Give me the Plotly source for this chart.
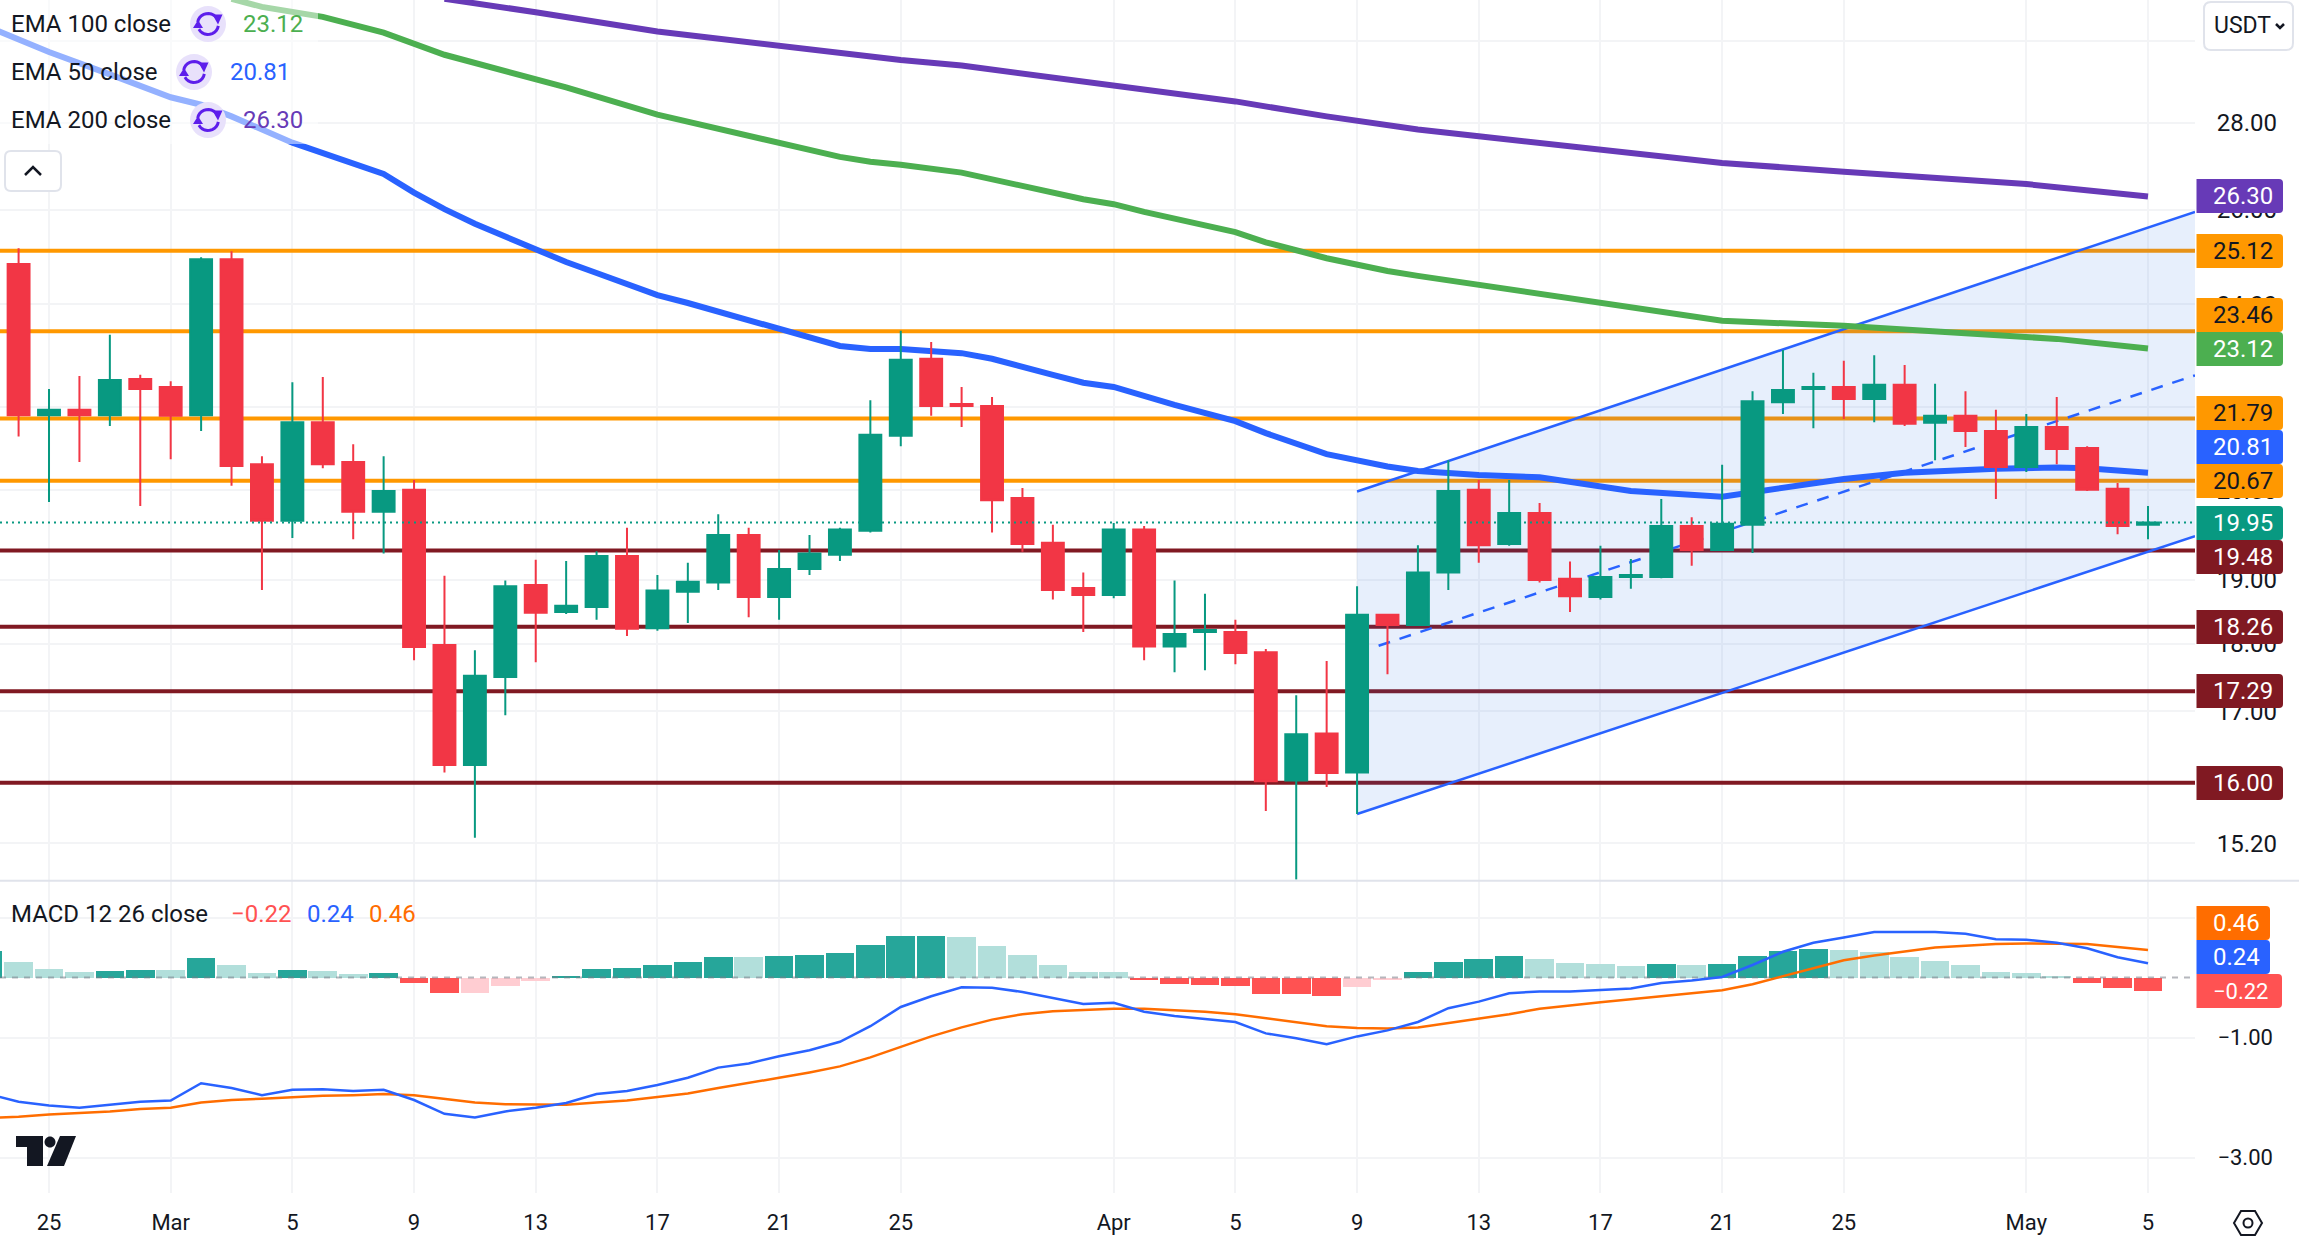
import math
import pandas as pd
import plotly.graph_objects as go

W, H = 2299, 1242

# daily candles, 24 Feb to 5 May
candle_dates = pd.date_range("2025-02-24", "2025-05-05")
open_px = [24.84, 21.85, 21.95, 21.85, 22.53,
           22.38, 21.85, 24.94, 20.96, 19.98, 21.72, 21.00, 20.13, 20.51, 17.98, 16.24, 17.50, 18.92, 18.49, 18.57, 19.39,
           18.24, 18.81, 18.96, 19.74, 18.73, 19.18, 19.41, 19.81, 21.47, 22.92, 22.06, 22.02, 20.37, 19.61, 18.87,
           18.76, 19.83, 17.96, 18.18, 18.18, 17.87, 16.03, 16.68, 16.14, 18.45, 18.29, 19.12, 20.51, 19.59, 20.11,
           19.02, 18.73, 19.05, 19.05, 19.89, 19.49, 19.91, 22.09, 22.34, 22.38, 22.15, 22.42, 21.71, 21.84, 21.56,
           20.91, 21.63, 21.25, 20.53, 19.91]
close_px = [21.85, 21.95, 21.85, 22.51, 22.34,
            21.84, 24.94, 20.93, 19.98, 21.72, 20.96, 20.13, 20.49, 17.95, 16.24, 17.52, 18.90, 18.48, 18.59, 19.39, 18.23,
            18.83, 18.97, 19.74, 18.73, 19.18, 19.43, 19.83, 21.49, 22.90, 22.02, 22.02, 20.33, 19.59, 18.84, 18.76,
            19.83, 17.96, 18.15, 18.21, 17.86, 16.02, 16.67, 16.13, 18.45, 18.29, 19.12, 20.49, 19.57, 20.11, 19.00,
            18.74, 19.05, 19.08, 19.89, 19.49, 19.93, 22.11, 22.32, 22.38, 22.15, 22.42, 21.69, 21.84, 21.56, 20.91,
            21.63, 21.23, 20.51, 19.89, 19.95]
high_px = [25.17, 22.34, 22.59, 23.39, 22.61,
           22.49, 24.98, 25.11, 21.10, 22.47, 22.57, 21.32, 21.10, 20.68, 19.07, 17.90, 18.99, 19.33, 19.31, 19.47, 19.86,
           19.08, 19.28, 20.09, 19.86, 19.49, 19.74, 19.86, 22.13, 23.47, 23.25, 22.38, 22.19, 20.54, 19.91, 19.12,
           19.94, 19.89, 18.99, 18.78, 18.37, 17.92, 17.23, 17.74, 18.90, 18.45, 19.57, 21.03, 20.68, 20.68, 20.28,
           19.30, 19.56, 19.34, 20.35, 20.04, 20.95, 22.30, 23.09, 22.65, 22.88, 22.99, 22.80, 22.44, 22.30, 21.95,
           21.87, 22.19, 21.28, 20.63, 20.23]
low_px = [21.46, 20.30, 21.00, 21.65, 20.23,
          21.05, 21.56, 20.58, 18.84, 19.69, 20.89, 19.67, 19.43, 17.75, 16.14, 15.27, 16.94, 17.72, 18.46, 18.37, 18.12,
          18.20, 18.32, 18.84, 18.41, 18.37, 19.08, 19.31, 19.78, 21.28, 21.84, 21.63, 19.78, 19.46, 18.69, 18.18,
          18.71, 17.75, 17.57, 17.60, 17.69, 15.62, 14.74, 15.94, 15.58, 17.54, 18.29, 18.84, 19.28, 19.56, 18.96,
          18.49, 18.69, 18.86, 19.03, 19.23, 19.49, 19.44, 21.87, 21.61, 21.78, 21.72, 21.65, 21.03, 21.27, 20.35,
          20.82, 20.96, 20.49, 19.75, 19.67]

ema50_dates = ["02-23", "02-24", "02-25", "02-27", "03-01", "03-02", "03-03", "03-05", "03-08", "03-09", "03-10", "03-11",
               "03-13", "03-14", "03-15", "03-17", "03-18", "03-19", "03-21", "03-23", "03-24", "03-25", "03-27", "03-28",
               "03-30", "03-31", "04-01", "04-03", "04-05", "04-06", "04-08", "04-10", "04-11", "04-13", "04-15", "04-18",
               "04-21", "04-22", "04-25", "04-27", "04-30", "05-02", "05-03", "05-05"]
ema50 = [30.37, 30.04, 29.73, 29.17, 28.61, 28.43, 28.15, 27.53, 26.81, 26.39, 26.02, 25.70,
         25.15, 24.88, 24.65, 24.19, 24.03, 23.85, 23.49, 23.17, 23.11, 23.11, 23.03, 22.92,
         22.61, 22.46, 22.38, 22.04, 21.74, 21.52, 21.14, 20.92, 20.84, 20.77, 20.73, 20.49,
         20.39, 20.47, 20.70, 20.81, 20.88, 20.90, 20.89, 20.81]

ema100_dates = ["03-03", "03-04", "03-06", "03-08", "03-10", "03-14", "03-17", "03-21", "03-23", "03-24", "03-25", "03-27",
                "03-31", "04-01", "04-02", "04-05", "04-06", "04-08", "04-10", "04-11", "04-13", "04-17", "04-21", "04-25",
                "04-30", "05-02", "05-05"]
ema100 = [31.10, 30.89, 30.63, 30.22, 29.66, 28.85, 28.19, 27.53, 27.20, 27.09, 27.02, 26.84,
          26.24, 26.13, 25.96, 25.52, 25.30, 24.96, 24.69, 24.59, 24.40, 24.01, 23.67, 23.57,
          23.37, 23.31, 23.12]

ema200_dates = ["03-10", "03-13", "03-17", "03-21", "03-23", "03-24", "03-25", "03-27", "03-31", "04-05", "04-08", "04-11",
                "04-13", "04-17", "04-21", "04-25", "05-01", "05-05"]
ema200 = [31.10, 30.75, 30.25, 29.88, 29.71, 29.61, 29.53, 29.39, 29.00, 28.51, 28.15, 27.84,
          27.68, 27.36, 27.06, 26.86, 26.58, 26.30]

resistance_levels = [25.12, 23.46, 21.79, 20.67]
support_levels = [19.48, 18.26, 17.29, 16.00]
last_close = 19.95

# parallel channel
channel_start = "2025-04-09"
channel_end = "2025-05-06 13:05"
mid_start = "2025-04-09 17:00"
channel_upper = [20.48, 25.96]
channel_lower = [15.58, 19.72]
channel_mid = [17.97, 22.60]

# MACD pane, 23 Feb to 5 May
macd_dates = pd.date_range("2025-02-23", "2025-05-05")
macd_hist = [0.44, 0.26, 0.14, 0.09, 0.11, 0.12,
             0.12, 0.32, 0.21, 0.07, 0.12, 0.11, 0.06, 0.07, -0.09, -0.26, -0.26, -0.14, -0.06, 0.02, 0.14,
             0.16, 0.21, 0.26, 0.34, 0.34, 0.36, 0.37, 0.41, 0.54, 0.69, 0.70, 0.67, 0.52, 0.37, 0.21, 0.09,
             0.09, -0.04, -0.11, -0.13, -0.14, -0.27, -0.28, -0.31, -0.16, -0.04, 0.09, 0.26, 0.31, 0.36,
             0.31, 0.24, 0.22, 0.19, 0.22, 0.21, 0.22, 0.36, 0.44, 0.47, 0.46, 0.42, 0.34, 0.27, 0.21, 0.09,
             0.07, 0.02, -0.09, -0.18, -0.22]
macd_line = [-1.94, -2.07, -2.13, -2.17, -2.12, -2.07,
             -2.05, -1.76, -1.84, -1.96, -1.87, -1.86, -1.89, -1.87, -2.04, -2.27, -2.33, -2.23, -2.17, -2.09, -1.94,
             -1.89, -1.79, -1.67, -1.50, -1.43, -1.31, -1.21, -1.07, -0.81, -0.49, -0.31, -0.16, -0.17, -0.24, -0.34, -0.44,
             -0.42, -0.57, -0.64, -0.69, -0.74, -0.93, -1.01, -1.11, -0.98, -0.88, -0.74, -0.51, -0.40, -0.26,
             -0.23, -0.23, -0.21, -0.18, -0.09, -0.05, 0.01, 0.21, 0.43, 0.58, 0.67, 0.76, 0.76, 0.76, 0.73, 0.64,
             0.63, 0.58, 0.49, 0.34, 0.24]
signal_line = [-2.34, -2.32, -2.28, -2.26, -2.23, -2.19,
               -2.17, -2.08, -2.04, -2.02, -1.99, -1.97, -1.96, -1.94, -1.96, -2.02, -2.08, -2.11, -2.12, -2.12, -2.08,
               -2.05, -1.99, -1.93, -1.84, -1.76, -1.67, -1.58, -1.48, -1.33, -1.16, -0.98, -0.83, -0.70, -0.61, -0.56, -0.54,
               -0.52, -0.52, -0.54, -0.57, -0.61, -0.68, -0.74, -0.81, -0.84, -0.85, -0.83, -0.76, -0.69, -0.61,
               -0.52, -0.46, -0.41, -0.36, -0.31, -0.26, -0.21, -0.11, 0.02, 0.15, 0.29, 0.37, 0.44, 0.50, 0.53, 0.56,
               0.57, 0.57, 0.56, 0.51, 0.46]

date_ticks = ["2025-02-25", "2025-03-01", "2025-03-05", "2025-03-09", "2025-03-13", "2025-03-17", "2025-03-21", "2025-03-25",
              "2025-04-01", "2025-04-05", "2025-04-09", "2025-04-13", "2025-04-17", "2025-04-21", "2025-04-25",
              "2025-05-01", "2025-05-05"]
date_labels = ["25", "Mar", "5", "9", "13", "17", "21", "25", "Apr", "5", "9", "13", "17", "21", "25", "May", "5"]
price_ticks = [30, 28, 26, 24, 22, 20.5, 19, 18, 17, 15.2]
price_labels = ["", "28.00", "26.00", "24.00", "22.00", "20.50", "19.00", "18.00", "17.00", "15.20"]
macd_ticks = [1, -1, -3]
macd_labels = ["1.00", "\u22121.00", "\u22123.00"]

# colours
UP, DOWN = "#089981", "#F23645"
ORANGE, MAROON = "#FF9800", "#801922"
BLUE, GREEN, PURPLE = "#2962FF", "#4CAF50", "#673AB7"
MACD_RED, MACD_ORANGE = "#FF5252", "#FF6D00"
GRID = "#F3F4F6"
INK = "#131722"
FONT = "Roboto"

x_left = "2025-02-23 09:20"
x_right = channel_end
log_range = [math.log10(14.72), math.log10(31.07)]


def day(md):
    return "2025-" + md


def hist_colour(i):
    v = macd_hist[i]
    rising = i == 0 or v > macd_hist[i - 1]
    if v >= 0:
        return "#26A69A" if rising else "#B2DFDB"
    return "#FFCDD2" if rising or v == macd_hist[i - 1] else MACD_RED


fig = go.Figure()

# levels go first so the channel fill tints them
for lvl in resistance_levels:
    fig.add_trace(go.Scatter(x=[x_left, x_right], y=[lvl, lvl], mode="lines", line=dict(color=ORANGE, width=4)))
for lvl in support_levels:
    fig.add_trace(go.Scatter(x=[x_left, x_right], y=[lvl, lvl], mode="lines", line=dict(color=MAROON, width=4)))

fig.add_trace(go.Scatter(
    x=[channel_start, channel_end, channel_end, channel_start],
    y=[channel_upper[0], channel_upper[1], channel_lower[1], channel_lower[0]],
    mode="lines", line=dict(width=0), fill="toself", fillcolor="rgba(33,100,225,0.105)"))
fig.add_trace(go.Scatter(x=[channel_start, channel_end], y=channel_upper, mode="lines", line=dict(color=BLUE, width=2.5)))
fig.add_trace(go.Scatter(x=[channel_start, channel_end], y=channel_lower, mode="lines", line=dict(color=BLUE, width=2.5)))
fig.add_trace(go.Scatter(x=[mid_start, channel_end], y=channel_mid, mode="lines",
                         line=dict(color=BLUE, width=2.5, dash="12px,10px")))

fig.add_trace(go.Scatter(x=[day(d) for d in ema200_dates], y=ema200, mode="lines", line=dict(color=PURPLE, width=6)))
fig.add_trace(go.Scatter(x=[day(d) for d in ema100_dates], y=ema100, mode="lines", line=dict(color=GREEN, width=6)))
fig.add_trace(go.Scatter(x=[day(d) for d in ema50_dates], y=ema50, mode="lines", line=dict(color=BLUE, width=6)))

# candles sit on an overlay axis, otherwise the scatter layer would cover them
fig.add_trace(go.Candlestick(
    x=candle_dates, open=open_px, high=high_px, low=low_px, close=close_px,
    xaxis="x", yaxis="y3", whiskerwidth=0,
    increasing=dict(line=dict(color=UP, width=2), fillcolor=UP),
    decreasing=dict(line=dict(color=DOWN, width=2), fillcolor=DOWN)))
fig.add_trace(go.Scatter(x=[x_left, x_right], y=[last_close, last_close], xaxis="x", yaxis="y3", mode="lines",
                         line=dict(color=UP, width=2, dash="2px,4px")))

# MACD pane
fig.add_trace(go.Bar(x=macd_dates, y=macd_hist, xaxis="x2", yaxis="y2",
                     marker=dict(color=[hist_colour(i) for i in range(len(macd_hist))], line=dict(width=0)),
                     width=0.94 * 86400000))
fig.add_trace(go.Scatter(x=[x_left, x_right], y=[0, 0], xaxis="x2", yaxis="y2", mode="lines",
                         line=dict(color="rgba(120,123,134,0.55)", width=2, dash="6px,6px")))
fig.add_trace(go.Scatter(x=macd_dates, y=signal_line, xaxis="x2", yaxis="y2", mode="lines",
                         line=dict(color=MACD_ORANGE, width=2.5)))
fig.add_trace(go.Scatter(x=macd_dates, y=macd_line, xaxis="x2", yaxis="y2", mode="lines",
                         line=dict(color=BLUE, width=2.5)))


def P(x, y):
    # figure pixels to the pixel-sized shape convention (y up from the top edge)
    return f"{x:.1f},{-y:.1f}"


def px_shape(path, fill=None, line=None, lw=0):
    return dict(type="path", layer="above", xref="paper", yref="paper",
                xsizemode="pixel", ysizemode="pixel", xanchor=0, yanchor=1, path=path,
                fillcolor=fill or "rgba(0,0,0,0)", line=dict(color=line or "rgba(0,0,0,0)", width=lw))


def rrect(x0, y0, x1, y1, r, left=True):
    rl = r if left else 0
    return (f"M{P(x0 + rl, y0)} L{P(x1 - r, y0)} Q{P(x1, y0)} {P(x1, y0 + r)} L{P(x1, y1 - r)} "
            f"Q{P(x1, y1)} {P(x1 - r, y1)} L{P(x0 + rl, y1)} Q{P(x0, y1)} {P(x0, y1 - rl)} "
            f"L{P(x0, y0 + rl)} Q{P(x0, y0)} {P(x0 + rl, y0)} Z")


def ring(cx, cy, r=18):
    k = 0.5523 * r
    return (f"M{P(cx, cy - r)} C{P(cx + k, cy - r)} {P(cx + r, cy - k)} {P(cx + r, cy)} "
            f"C{P(cx + r, cy + k)} {P(cx + k, cy + r)} {P(cx, cy + r)} "
            f"C{P(cx - k, cy + r)} {P(cx - r, cy + k)} {P(cx - r, cy)} "
            f"C{P(cx - r, cy - k)} {P(cx - k, cy - r)} {P(cx, cy - r)} Z")


def arc(cx, cy, r, a0, a1, steps=10):
    pts = []
    for i in range(steps + 1):
        a = math.radians(a0 + (a1 - a0) * i / steps)
        pts.append(P(cx + r * math.cos(a), cy + r * math.sin(a)))
    return "M" + " L".join(pts)


def head(cx, cy, r, a, s=5):
    t = math.radians(a)
    x, y = cx + r * math.cos(t), cy + r * math.sin(t)
    return (f"M{P(x - s, y - s)} L{P(x + s, y - s)} L{P(x + s * 0.1, y + s)} Z")


shapes = []
texts = []


def text(x, y, s, color=INK, size=24, anchor="left"):
    texts.append(dict(xref="paper", yref="paper", x=x / W, y=1 - y / H, text=s, showarrow=False,
                      xanchor=anchor, yanchor="middle", font=dict(family=FONT, size=size, color=color)))


# pane separator
shapes.append(px_shape(f"M{P(0, 880.7)} L{P(W, 880.7)}", line="#E0E3EB", lw=2))
# legend veil over the lines
shapes.append(px_shape(f"M{P(0, 0)} L{P(318, 0)} L{P(318, 144)} L{P(0, 144)} Z", fill="rgba(255,255,255,0.5)"))

legend_rows = [("EMA 100 close", "23.12", GREEN, 24, 208, 241),
               ("EMA 50 close", "20.81", BLUE, 72, 194, 228),
               ("EMA 200 close", "26.30", PURPLE, 120, 208, 241)]
for name, val, col, yy, cx, vx in legend_rows:
    text(9, yy, name)
    text(vx, yy, val, color=col)
    shapes.append(px_shape(ring(cx, yy), fill="#E8E1FB"))
    shapes.append(px_shape(arc(cx, yy, 10.5, 190, 330), line="#5D1EEB", lw=3))
    shapes.append(px_shape(arc(cx, yy, 10.5, 10, 150), line="#5D1EEB", lw=3))
    shapes.append(px_shape(head(cx, yy, 10.5, 335), fill="#5D1EEB"))
    shapes.append(px_shape(f"M{P(cx - 15, yy + 4)} L{P(cx - 5, yy + 4)} L{P(cx - 10, yy - 4)} Z", fill="#5D1EEB"))

# collapse button
shapes.append(px_shape(rrect(5, 151, 61, 191, 6), fill="white", line="#E0E3EB", lw=2))
shapes.append(px_shape(f"M{P(25, 175)} L{P(33, 167)} L{P(41, 175)}", line=INK, lw=2.5))

# currency button
shapes.append(px_shape(rrect(2204, 2, 2293, 50, 7), fill="white", line="#E0E3EB", lw=2))
text(2212, 26, "USDT", size=23)
shapes.append(px_shape(f"M{P(2276, 24)} L{P(2280, 28)} L{P(2284, 24)}", line=INK, lw=2.5))

# price tags: (top, bottom, right, colour, label, text colour, text size)
price_tags = [(179, 213, 2283, PURPLE, "26.30", "white", 24),
              (234, 268, 2283, ORANGE, "25.12", INK, 24),
              (298, 332, 2283, ORANGE, "23.46", INK, 24),
              (332, 366, 2283, GREEN, "23.12", "white", 24),
              (396, 430, 2283, ORANGE, "21.79", INK, 24),
              (430, 464, 2283, BLUE, "20.81", "white", 24),
              (464, 498, 2283, ORANGE, "20.67", INK, 24),
              (506, 540, 2283, UP, "19.95", "white", 24),
              (540, 574, 2283, MAROON, "19.48", "white", 24),
              (610, 644, 2283, MAROON, "18.26", "white", 24),
              (674, 708, 2283, MAROON, "17.29", "white", 24),
              (766, 800, 2283, MAROON, "16.00", "white", 24),
              (906, 940, 2270, MACD_ORANGE, "0.46", "white", 24),
              (940, 974, 2270, BLUE, "0.24", "white", 24),
              (974, 1008, 2282, MACD_RED, "\u22120.22", "white", 22)]
for top, bot, right, col, lab, tc, sz in price_tags:
    shapes.append(px_shape(rrect(2196.5, top, right, bot, 4, left=False), fill=col))
    text(2211, (top + bot) / 2, lab, color=tc, size=sz)

# MACD legend
text(9, 914, "MACD 12 26 close")
text(229, 914, "\u22120.22", color=MACD_RED)
text(305, 914, "0.24", color=BLUE)
text(367, 914, "0.46", color=MACD_ORANGE)

# logo
shapes.append(px_shape(f"M{P(16, 1136)} L{P(43, 1136)} L{P(43, 1166)} L{P(27, 1166)} L{P(27, 1147)} L{P(16, 1147)} Z", fill=INK))
shapes.append(px_shape(ring(50, 1142, 5.5), fill=INK))
shapes.append(px_shape(f"M{P(60, 1136)} L{P(76, 1136)} L{P(64, 1166)} L{P(47, 1166)} Z", fill=INK))

# settings icon
hex_pts = [(2234, 1223), (2241, 1211), (2255, 1211), (2262, 1223), (2255, 1235), (2241, 1235)]
shapes.append(px_shape("M" + " L".join(P(a, b) for a, b in hex_pts) + " Z", line=INK, lw=2))
shapes.append(px_shape(ring(2248, 1223, 4.5), line=INK, lw=2))

PLOT_R = 2195 / W
TOP_SPLIT = 1 - 881 / H
BOT = 1 - 1193 / H

fig.update_layout(
    width=W, height=H, margin=dict(l=0, r=0, t=0, b=0),
    paper_bgcolor="white", plot_bgcolor="white", showlegend=False, hovermode=False,
    boxgap=0.28, boxgroupgap=0, bargap=0, font=dict(family=FONT, color=INK),
    shapes=shapes, annotations=texts,
    xaxis=dict(domain=[0, PLOT_R], anchor="y", type="date", range=[x_left, x_right], tickvals=date_ticks,
               showticklabels=False, ticks="", showgrid=True, gridcolor=GRID, gridwidth=2, zeroline=False,
               rangeslider=dict(visible=False), showline=False),
    xaxis2=dict(domain=[0, PLOT_R], anchor="y2", matches="x", type="date", range=[x_left, x_right],
                tickvals=date_ticks, ticktext=date_labels, ticks="outside", ticklen=10, tickcolor="rgba(0,0,0,0)",
                showgrid=True, gridcolor=GRID, gridwidth=2, zeroline=False, showline=False,
                tickfont=dict(family=FONT, size=22, color=INK), tickangle=0, rangeslider=dict(visible=False)),
    yaxis=dict(domain=[TOP_SPLIT, 1], anchor="x", side="right", type="log", range=log_range,
               tickvals=price_ticks, ticktext=price_labels, ticks="outside", ticklen=16, tickcolor="rgba(0,0,0,0)",
               showgrid=True, gridcolor=GRID, gridwidth=2, zeroline=False, showline=False,
               tickfont=dict(family=FONT, size=24, color=INK)),
    yaxis3=dict(overlaying="y", anchor="x", side="right", type="log", range=log_range, visible=False),
    yaxis2=dict(domain=[BOT, TOP_SPLIT], anchor="x2", side="right", range=[-3.59, 1.61],
                tickvals=macd_ticks, ticktext=macd_labels, ticks="outside", ticklen=17, tickcolor="rgba(0,0,0,0)",
                showgrid=True, gridcolor=GRID, gridwidth=2, zeroline=False, showline=False,
                tickfont=dict(family=FONT, size=22, color=INK)),
)

fig.write_html("out.html", config={"displayModeBar": False}, post_script="document.body.style.margin='0';")
